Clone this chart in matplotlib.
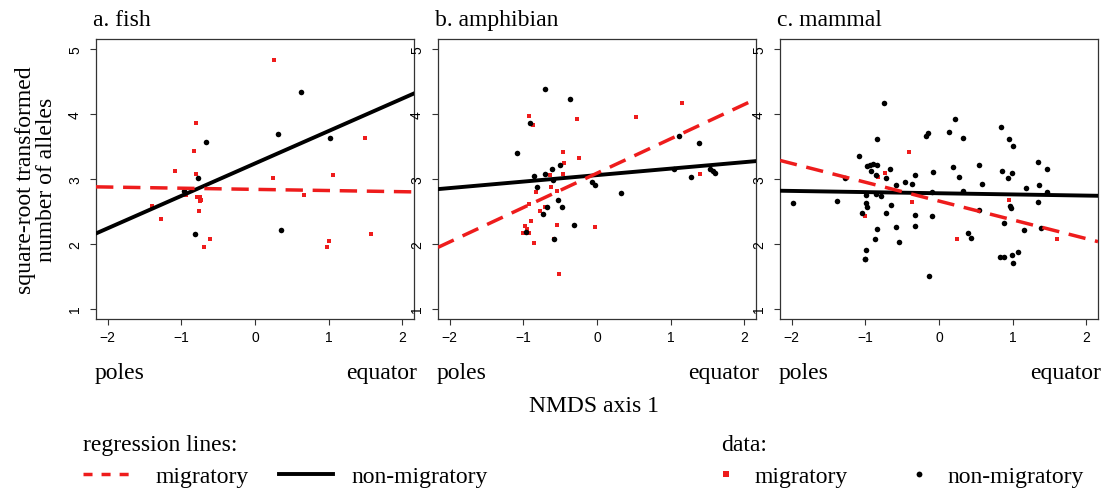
import numpy as np
import matplotlib
matplotlib.use("Agg")
import matplotlib.pyplot as plt
from matplotlib.lines import Line2D

# ---- data ----
panel_titles = ["a. fish", "b. amphibian", "c. mammal"]

fish_mig_x = [0.26, -0.80, -0.83, -1.09, -0.80, 0.24, 1.06, 1.49, -0.94, -0.79, -0.75,
              -0.75, -0.73, -0.76, -1.40, -1.28, 0.67, -0.61, -0.69, 1.01, 0.98, 1.57]
fish_mig_y = [4.84, 3.87, 3.43, 3.12, 3.08, 3.02, 3.06, 3.63, 2.75, 2.72, 2.72,
              2.66, 2.68, 2.51, 2.59, 2.38, 2.75, 2.08, 1.95, 2.05, 1.95, 2.15]
fish_non_x = [0.63, 0.31, 1.02, -0.66, -0.77, -0.97, -0.81, 0.35]
fish_non_y = [4.35, 3.70, 3.64, 3.57, 3.01, 2.81, 2.15, 2.22]

amph_mig_x = [-0.92, -0.87, -0.27, 0.53, 1.15, -0.46, -0.25, -0.45, -0.64, -0.46, -0.62,
              -0.83, -0.55, -0.93, -0.71, -0.77, -0.90, -0.98, -0.95, -1.01, -0.92, -0.86,
              -0.54, -0.59, -0.03, -0.52, 1.40]
amph_mig_y = [3.97, 3.84, 3.93, 3.95, 4.18, 3.42, 3.32, 3.25, 3.06, 3.07, 2.87,
              2.80, 2.82, 2.61, 2.57, 2.51, 2.35, 2.28, 2.23, 2.16, 2.16, 2.01,
              2.29, 2.07, 2.26, 1.53, 3.07]
amph_non_x = [-0.70, -0.37, -0.91, -1.09, 1.12, 1.38, -0.61, -0.50, -0.85, -0.71, -0.60,
              -0.82, -0.07, -0.03, 0.32, -0.53, -0.47, -0.68, -0.74, -0.31, -0.96, -0.59,
              1.28, 1.04, 1.53, 1.57, 1.60]
amph_non_y = [4.39, 4.23, 3.87, 3.40, 3.66, 3.56, 3.16, 3.21, 3.05, 3.07, 2.99,
              2.87, 2.96, 2.90, 2.79, 2.68, 2.57, 2.57, 2.46, 2.29, 2.19, 2.08,
              3.03, 3.16, 3.15, 3.13, 3.10]

mamm_mig_x = [-0.41, -0.73, -0.83, -0.37, -1.01, 0.95, 0.24, 1.60]
mamm_mig_y = [3.41, 3.09, 3.03, 2.64, 2.43, 2.68, 2.08, 2.08]
mamm_non_x = [-0.75, 0.22, 0.84, -0.15, -0.18, 0.14, 0.32, 0.95, 1.01, -0.84, -1.09,
              1.35, 1.47, -0.98, -0.94, -0.89, -0.84, -0.93, -0.86, -0.67, -0.72, -1.28,
              -0.32, -0.08, 0.19, 0.27, 0.54, 0.85, 0.99, 0.94, -0.46, -0.58, -0.37,
              0.59, 1.18, 1.36, 1.47, 0.32, -0.10, -0.99, -0.86, -0.79, -1.39, -1.99,
              -0.99, -0.98, -1.04, -0.65, -0.72, -0.32, -0.10, 0.55, 0.98, 0.96, 1.34,
              -0.32, -0.59, -0.84, -0.87, -0.54, 0.39, 0.43, 0.88, 1.16, 1.38, -0.99,
              -1.01, -1.00, 0.83, 0.88, 0.99, 1.01, 1.07, -0.13]
mamm_non_y = [4.18, 3.93, 3.81, 3.71, 3.67, 3.73, 3.64, 3.61, 3.51, 3.62, 3.36,
              3.27, 3.16, 3.20, 3.22, 3.23, 3.22, 3.12, 3.06, 3.16, 3.02, 3.02,
              3.06, 3.11, 3.18, 3.03, 3.22, 3.13, 3.09, 3.02, 2.95, 2.90, 2.92,
              2.92, 2.86, 2.90, 2.80, 2.81, 2.80, 2.75, 2.77, 2.74, 2.66, 2.63,
              2.63, 2.57, 2.48, 2.60, 2.47, 2.45, 2.43, 2.52, 2.56, 2.58, 2.65,
              2.28, 2.26, 2.23, 2.08, 2.03, 2.17, 2.09, 2.32, 2.21, 2.25, 1.91,
              1.77, 1.76, 1.79, 1.79, 1.83, 1.71, 1.88, 1.50]

# regression lines (intercept, slope) per panel
mig_intercept = [2.84, 3.09, 2.66]
mig_slope = [-0.018, 0.53, -0.29]
non_intercept = [3.24, 3.06, 2.78]
non_slope = [0.50, 0.10, -0.018]

panels = [
    (fish_mig_x, fish_mig_y, fish_non_x, fish_non_y),
    (amph_mig_x, amph_mig_y, amph_non_x, amph_non_y),
    (mamm_mig_x, mamm_mig_y, mamm_non_x, mamm_non_y),
]

RED = "#ee1c1c"
SERIF = "Liberation Serif"
SANS = "Liberation Sans"
plt.rcParams["font.family"] = SANS

fig = plt.figure(figsize=(11.02, 4.89), dpi=100)

W, H = 1102.0, 489.0
lefts = [96, 438, 780]
for i, (mx, my, nx, ny) in enumerate(panels):
    ax = fig.add_axes([lefts[i] / W, 1 - 320 / H, 318 / W, 280 / H])
    ax.scatter(mx, my, marker="s", s=12, color=RED, linewidths=0, zorder=2)
    ax.scatter(nx, ny, marker="o", s=16, color="black", linewidths=0, zorder=2)
    ax.axline((0, non_intercept[i]), slope=non_slope[i], color="black", lw=2.8, zorder=3)
    ax.axline((0, mig_intercept[i]), slope=mig_slope[i], color=RED, lw=2.5,
              dashes=(5.0, 2.8), zorder=3)
    ax.set_xlim(-2.16, 2.16)
    ax.set_ylim(0.84, 5.16)
    ax.set_xticks([-2, -1, 0, 1, 2])
    ax.set_yticks([1, 2, 3, 4, 5])
    ax.tick_params(length=4.5, width=0.8, color="#333333", labelsize=10, pad=3.5)
    ax.tick_params(axis="y", pad=5.5)
    for lab in ax.get_yticklabels():
        lab.set_rotation(90)
        lab.set_va("center")
    for sp in ax.spines.values():
        sp.set_linewidth(0.9)
        sp.set_color("#333333")
    ax.text(-0.008, 1.05, panel_titles[i], transform=ax.transAxes, ha="left",
            va="baseline", fontsize=17, family=SERIF)
    ax.text(-0.005, -0.19, "poles", transform=ax.transAxes, ha="left", va="center",
            fontsize=17, family=SERIF)
    ax.text(1.01, -0.19, "equator", transform=ax.transAxes, ha="right", va="center",
            fontsize=17, family=SERIF)

fig.text(36 / W, 1 - 180 / H, "square-root transformed\nnumber of alleles", rotation=90,
         ha="center", va="center", multialignment="center", linespacing=0.95,
         fontsize=17, family=SERIF)
fig.text(594 / W, 1 - 407 / H, "NMDS axis 1", ha="center", va="center",
         fontsize=17, family=SERIF)

# legends
fig.text(83 / W, 1 - 446 / H, "regression lines:", ha="left", va="center",
         fontsize=17, family=SERIF)
fig.text(721 / W, 1 - 446 / H, "data:", ha="left", va="center",
         fontsize=17, family=SERIF)

line_handles = [Line2D([], [], color=RED, lw=2.5, dashes=(2.6, 2.6)),
                Line2D([], [], color="black", lw=2.8)]
fig.legend(line_handles, ["migratory", "non-migratory"], loc="center left",
           bbox_to_anchor=(83 / W, 1 - 477 / H), ncol=2, frameon=False,
           prop={"family": SERIF, "size": 17}, handlelength=2.3, handletextpad=0.75,
           columnspacing=1.3, borderpad=0, borderaxespad=0)

pt_handles = [Line2D([], [], ls="none", marker="s", ms=3.8, color=RED, mew=0),
              Line2D([], [], ls="none", marker="o", ms=4.2, color="black", mew=0)]
fig.legend(pt_handles, ["migratory", "non-migratory"], loc="center left",
           bbox_to_anchor=(717 / W, 1 - 477 / H), ncol=2, frameon=False,
           prop={"family": SERIF, "size": 17}, handlelength=0.8, handletextpad=0.8,
           columnspacing=2.6, borderpad=0, borderaxespad=0)

fig.savefig("out.png", dpi=100)
